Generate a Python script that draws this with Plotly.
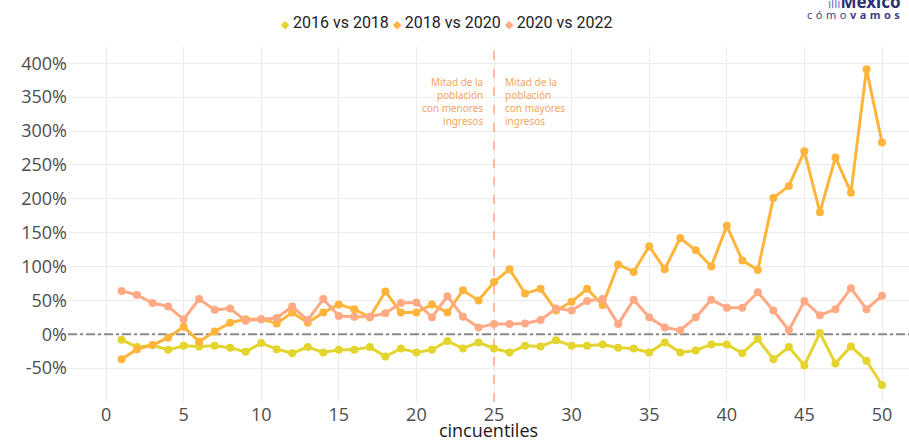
import plotly.graph_objects as go

cincuentiles = list(range(1, 51))

series_names = ["2016 vs 2018", "2018 vs 2020", "2020 vs 2022"]
series_colors = ["#E3D42E", "#FFB53C", "#FFAA85"]

v_2016_2018 = [-8, -19, -16, -23, -17, -18, -17, -20, -26, -13,
               -22, -28, -19, -27, -23, -23, -19, -33, -21, -27,
               -23, -10, -21, -12, -21, -27, -17, -18, -9, -17,
               -17, -15, -20, -21, -27, -12, -27, -24, -15, -15,
               -28, -7, -37, -19, -46, 2, -43, -18, -39, -75]

v_2018_2020 = [-37, -22, -16, -5, 11, -11, 4, 17, 22, 22,
               16, 32, 17, 32, 44, 37, 25, 63, 32, 32,
               44, 32, 65, 50, 77, 96, 60, 67, 35, 48,
               67, 43, 103, 92, 130, 96, 142, 124, 100, 160,
               109, 95, 201, 219, 270, 180, 261, 209, 391, 283]

v_2020_2022 = [64, 58, 46, 41, 22, 52, 36, 38, 20, 22,
               24, 41, 21, 52, 27, 26, 26, 31, 46, 47,
               25, 56, 26, 10, 15, 15, 16, 21, 38, 35,
               49, 52, 15, 51, 25, 10, 6, 25, 51, 39,
               39, 62, 35, 6, 49, 28, 37, 68, 37, 57]

series_values = [v_2016_2018, v_2018_2020, v_2020_2022]

y_tick_vals = [-50, 0, 50, 100, 150, 200, 250, 300, 350, 400]
y_tick_text = [f"{v}%" for v in y_tick_vals]
x_tick_vals = [0, 5, 10, 15, 20, 25, 30, 35, 40, 45, 50]
x_range = [-2.45, 51.74]
y_range = [-100, 424]

mitad_x = 25
note_left = "Mitad de la<br>población<br>con menores<br>ingresos"
note_right = "Mitad de la<br>población<br>con mayores<br>ingresos"

W, H = 909, 442
ML, MR, MT, MB = 68, 0, 47, 40

fig = go.Figure()

# reference lines (drawn as traces so they sit above the grid, below the data)
fig.add_trace(go.Scatter(x=[mitad_x, mitad_x], y=y_range, mode="lines",
                         line=dict(color="#FFA98A", width=1.5, dash="dash"),
                         hoverinfo="skip", showlegend=False))
fig.add_trace(go.Scatter(x=x_range, y=[0, 0], mode="lines",
                         line=dict(color="#8a8a8a", width=2, dash="dashdot"),
                         hoverinfo="skip", showlegend=False))

for name, vals, col in zip(series_names, series_values, series_colors):
    fig.add_trace(go.Scatter(
        x=cincuentiles, y=vals, name=name, mode="lines+markers",
        line=dict(color=col, width=3),
        marker=dict(color=col, size=8),
        showlegend=False,
        hovertemplate="%{x}: %{y}%<extra>" + name + "</extra>",
    ))

note_font = dict(family="Noto Sans, Open Sans, sans-serif", size=10, color="#F5A463")
fig.add_annotation(x=mitad_x, y=385, xref="x", yref="y", text=note_left,
                   showarrow=False, xanchor="right", yanchor="top", align="right",
                   xshift=-9, font=note_font)
fig.add_annotation(x=mitad_x, y=385, xref="x", yref="y", text=note_right,
                   showarrow=False, xanchor="left", yanchor="top", align="left",
                   xshift=9, font=note_font)

# legend (diamond keys) built from the series names and colours
legend_text = " ".join(
    f"<span style='color:{c};font-size:11px'>◆</span> {n}"
    for n, c in zip(series_names, series_colors)
)
fig.add_annotation(text=legend_text, xref="paper", yref="paper",
                   x=(447 - ML) / (W - ML - MR), y=(H - 22 - MB) / (H - MT - MB),
                   xanchor="center", yanchor="middle", showarrow=False,
                   font=dict(family="Roboto, sans-serif", size=16, color="#222222"))

# logo text (clipped at the top, as in the reference)
logo_font = dict(family="Noto Sans, sans-serif", size=17, color="#2E2E72")
fig.add_annotation(text="<span style='color:#6B6BD6;font-size:12px'>ıllı</span><b>México</b>",
                   x=(903 - ML) / (W - ML - MR), y=(H - 2 - MB) / (H - MT - MB),
                   xref="paper", yref="paper", showarrow=False,
                   xanchor="right", yanchor="middle", font=logo_font)
fig.add_annotation(text="<span style='letter-spacing:3.5px'>cómo<b>vamos</b></span>",
                   x=(905 - ML) / (W - ML - MR), y=(H - 15 - MB) / (H - MT - MB),
                   xref="paper", yref="paper", showarrow=False,
                   xanchor="right", yanchor="middle",
                   font=dict(family="Noto Sans, sans-serif", size=11, color="#3E3E8E"))

grid = "#EBEBEB"
fig.update_layout(
    width=W, height=H,
    margin=dict(l=ML, r=MR, t=MT, b=MB, autoexpand=False),
    paper_bgcolor="white", plot_bgcolor="white",
    showlegend=False,
    xaxis=dict(range=x_range, tickvals=x_tick_vals, showgrid=True, gridcolor=grid,
               gridwidth=1, zeroline=False, showline=False, ticks="",
               tickfont=dict(family="Open Sans, sans-serif", size=18, color="#4D4D4D"),
               title=dict(text="cincuentiles", standoff=6,
                          font=dict(family="Open Sans, sans-serif", size=18, color="#1A1A1A"))),
    yaxis=dict(range=y_range, tickvals=y_tick_vals, ticktext=y_tick_text, showgrid=True,
               gridcolor=grid, gridwidth=1, zeroline=False, showline=False, ticks="",
               tickfont=dict(family="Open Sans, sans-serif", size=18, color="#4D4D4D")),
)

fig.write_html("out.html", config={"displayModeBar": False},
               post_script="document.body.style.margin='0px';")
